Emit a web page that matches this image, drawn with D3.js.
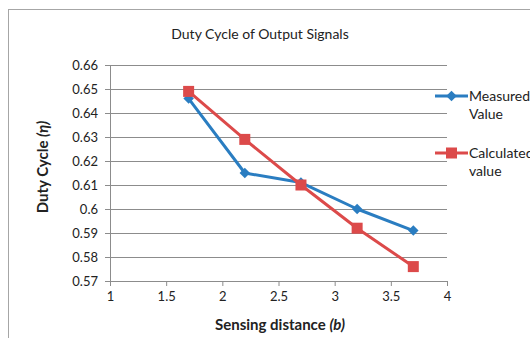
<!DOCTYPE html>
<html>
<head>
<meta charset="utf-8">
<script src="https://cdn.jsdelivr.net/npm/d3@7"></script>
<style>
  body { margin: 0; background: #fff; }
  svg { display: block; font-family: Lato, "Open Sans", sans-serif; }
</style>
</head>
<body>
<div id="chart"></div>
<script>
// data
const distance = [1.7, 2.2, 2.7, 3.2, 3.7];
const measured = [0.646, 0.615, 0.611, 0.600, 0.591];
const calculated = [0.649, 0.629, 0.610, 0.592, 0.576];
const xTicks = [1, 1.5, 2, 2.5, 3, 3.5, 4];
const yTicks = [0.57, 0.58, 0.59, 0.6, 0.61, 0.62, 0.63, 0.64, 0.65, 0.66];
const seriesNames = [["Measured", "Value"], ["Calculated", "value"]];
const seriesColors = ["#2a7dc1", "#dc4a4a"];

const width = 530, height = 338;
const margin = { top: 65, right: 83, bottom: 57, left: 110 };
const plotW = width - margin.left - margin.right;
const plotH = height - margin.top - margin.bottom;

const svg = d3.select("#chart").append("svg")
  .attr("width", width)
  .attr("height", height);

// outer chart border
svg.append("rect")
  .attr("x", 8.5).attr("y", 9.5)
  .attr("width", width).attr("height", height)
  .attr("fill", "none").attr("stroke", "#a6a6a6");

const g = svg.append("g")
  .attr("transform", "translate(" + margin.left + "," + margin.top + ")");

const x = d3.scaleLinear().domain([1, 4]).range([0, plotW]);
const y = d3.scaleLinear().domain([0.57, 0.66]).range([plotH, 0]);

// horizontal gridlines
g.selectAll(".grid")
  .data(yTicks)
  .enter().append("line")
  .attr("x1", 0).attr("x2", plotW)
  .attr("y1", d => Math.round(y(d)) + 0.5)
  .attr("y2", d => Math.round(y(d)) + 0.5)
  .attr("stroke", "#8c8c8c");

// axes
const yAxis = g.append("g")
  .call(d3.axisLeft(y).tickValues(yTicks).tickSize(5).tickPadding(7)
    .tickFormat(d => d3.format("")(+d.toFixed(2))));
const xAxis = g.append("g")
  .attr("transform", "translate(0," + plotH + ")")
  .call(d3.axisBottom(x).tickValues(xTicks).tickSize(5).tickPadding(6)
    .tickFormat(d => String(d)));

[xAxis, yAxis].forEach(a => {
  a.select(".domain").attr("stroke", "#8c8c8c");
  a.selectAll(".tick line").attr("stroke", "#8c8c8c");
  a.selectAll("text").attr("fill", "#222").style("font-size", "13px")
    .style("font-family", "Lato, 'Open Sans', sans-serif");
});

// lines and markers
const line = d3.line().x(d => x(d[0])).y(d => y(d[1]));
const series = [measured, calculated].map(vals => distance.map((d, i) => [d, vals[i]]));

series.forEach((pts, s) => {
  g.append("path")
    .datum(pts)
    .attr("d", line)
    .attr("fill", "none")
    .attr("stroke", seriesColors[s])
    .attr("stroke-width", 3)
    .attr("stroke-linejoin", "round");
});

const diamond = d3.symbol().type(d3.symbolDiamond2).size(70);
g.selectAll(".m1")
  .data(series[0]).enter().append("path")
  .attr("d", diamond)
  .attr("transform", d => "translate(" + x(d[0]) + "," + y(d[1]) + ")")
  .attr("fill", seriesColors[0]);

g.selectAll(".m2")
  .data(series[1]).enter().append("rect")
  .attr("x", d => x(d[0]) - 5.5).attr("y", d => y(d[1]) - 5.5)
  .attr("width", 11).attr("height", 11)
  .attr("fill", seriesColors[1]);

// title
svg.append("text")
  .attr("x", 260).attr("y", 39)
  .attr("text-anchor", "middle")
  .style("font-size", "14px")
  .attr("fill", "#222")
  .text("Duty Cycle of Output Signals");

// axis titles
const xt = svg.append("text")
  .attr("x", 280).attr("y", 330)
  .attr("text-anchor", "middle")
  .style("font-size", "15px").style("font-weight", "bold")
  .attr("fill", "#222");
xt.append("tspan").text("Sensing distance ");
xt.append("tspan").style("font-style", "italic").text("(b)");

const yt = svg.append("text")
  .attr("transform", "translate(48,167) rotate(-90)")
  .attr("text-anchor", "middle")
  .style("font-size", "15px").style("font-weight", "bold")
  .attr("fill", "#222");
yt.append("tspan").text("Duty Cycle ");
yt.append("tspan").style("font-style", "italic").text("(η)");

// legend
const legendY = [96, 153];
seriesNames.forEach((names, s) => {
  const lg = svg.append("g").attr("transform", "translate(435," + legendY[s] + ")");
  lg.append("line").attr("x1", 0).attr("x2", 33).attr("y1", 0).attr("y2", 0)
    .attr("stroke", seriesColors[s]).attr("stroke-width", 3);
  if (s === 0) {
    lg.append("path").attr("d", diamond).attr("transform", "translate(16.5,0)")
      .attr("fill", seriesColors[s]);
  } else {
    lg.append("rect").attr("x", 11).attr("y", -5.5).attr("width", 11).attr("height", 11)
      .attr("fill", seriesColors[s]);
  }
  names.forEach((t, i) => {
    lg.append("text").attr("x", 34).attr("y", 5 + i * 18)
      .style("font-size", "14px").attr("fill", "#222").text(t);
  });
});
</script>
</body>
</html>
